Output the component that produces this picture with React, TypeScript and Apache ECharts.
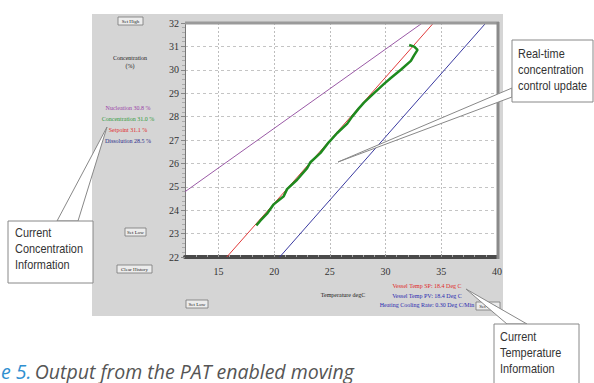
import React, { useEffect, useRef } from "react";
import * as echarts from "echarts";

// ---- data ----
const xTickValues = [15, 20, 25, 30, 35, 40];
const nucleationLine = [[12, 24.79], [33.3, 32]];
const setpointLine = [[15.75, 22], [34.3, 32]];
const solubilityLine = [[20.5, 22], [39.0, 32]];
const concentrationData = [
  [18.4, 23.35], [18.76, 23.55], [19.36, 23.85], [19.96, 24.25], [20.86, 24.6],
  [21.16, 24.9], [22.06, 25.3], [22.96, 25.8], [23.26, 26.05], [24.16, 26.45],
  [24.9, 26.9], [25.66, 27.3], [26.56, 27.7], [27.0, 28.0], [27.6, 28.35],
  [28.06, 28.6], [28.96, 29.0], [29.86, 29.4], [30.47, 29.65], [31.37, 30.0],
  [32.27, 30.38], [32.57, 30.63], [32.87, 30.85], [32.57, 30.99], [32.12, 31.06],
];
const concLabels = [
  { text: "Nucleation 30.8 %", color: "#9a3fa8" },
  { text: "Concentration 31.0 %", color: "#2f9a3a" },
  { text: "Setpoint 31.1 %", color: "#e02828" },
  { text: "Dissolution 28.5 %", color: "#2a2a8a" },
];
const tempLabels = [
  { text: "Vessel Temp SP: 18.4 Deg C", color: "#e02828" },
  { text: "Vessel Temp PV: 18.4 Deg C", color: "#2a2ab0" },
  { text: "Heating Cooling Rate: 0.30 Deg C/Min", color: "#2a2ab0" },
];

const SERIF = "'Liberation Serif', 'Times New Roman', serif";
const SANS = "'Liberation Sans', Arial, sans-serif";

function button(x: number, y: number, w: number, label: string) {
  return [
    { type: "rect", z: 3, shape: { x, y, width: w, height: 8 }, style: { fill: "#ececec", stroke: "#777", lineWidth: 0.8 } },
    { type: "text", z: 4, style: { x: x + w / 2, y: y + 4, text: label, fill: "#222", font: `5px ${SERIF}`, align: "center", verticalAlign: "middle" } },
  ];
}

function callout(box: number[], tip: number[], b1: number[], b2: number[], lines: string[], tx: number, ty: number) {
  return [
    { type: "polygon", z: 100, shape: { points: [tip, b1, b2] }, style: { fill: "#fff", stroke: "#888", lineWidth: 1 } },
    { type: "rect", z: 101, shape: { x: box[0], y: box[1], width: box[2], height: box[3] }, style: { fill: "#fff", stroke: "#888", lineWidth: 1 } },
    ...lines.map((t, i) => ({
      type: "text", z: 102, x: tx, y: ty + i * 16, scaleX: 0.84,
      style: { x: 0, y: 0, text: t, fill: "#333", font: `13px ${SANS}`, verticalAlign: "middle" },
    })),
  ];
}

export default function App() {
  const ref = useRef<HTMLDivElement>(null);
  useEffect(() => {
    if (!ref.current) return;
    const chart = echarts.init(ref.current, undefined, { renderer: "svg" });
    const graphics: any[] = [
      { type: "rect", z: -10, shape: { x: 92, y: 14, width: 411, height: 302 }, style: { fill: "#d5d5d5" } },
      // plot border top/right
      { type: "line", z: 5, shape: { x1: 185, y1: 23, x2: 499, y2: 23 }, style: { stroke: "#9a9a9a", lineWidth: 3 } },
      { type: "line", z: 5, shape: { x1: 498, y1: 22, x2: 498, y2: 259 }, style: { stroke: "#8a8a8a", lineWidth: 3 } },
      ...button(118, 17, 25, "Set High"),
      ...button(125, 228, 21, "Set Low"),
      ...button(117, 265, 35, "Clear History"),
      ...button(186, 300, 22, "Set Low"),
      ...button(476, 302, 24, "Set High"),
      { type: "text", z: 4, style: { x: 130, y: 58, text: "Concentration", fill: "#222", font: `6px ${SERIF}`, align: "center", verticalAlign: "middle" } },
      { type: "text", z: 4, style: { x: 130, y: 66, text: "(%)", fill: "#222", font: `6px ${SERIF}`, align: "center", verticalAlign: "middle" } },
      ...concLabels.map((l, i) => ({
        type: "text", z: 4,
        style: { x: 128, y: 108 + i * 11, text: l.text, fill: l.color, font: `6px ${SERIF}`, align: "center", verticalAlign: "middle" },
      })),
      ...tempLabels.map((l, i) => ({
        type: "text", z: 4,
        style: { x: 427, y: 286 + i * 9.5, text: l.text, fill: l.color, font: `6px ${SERIF}`, align: "center", verticalAlign: "middle" },
      })),
      { type: "text", z: 4, style: { x: 343, y: 295, text: "Temperature degC", fill: "#222", font: `6px ${SERIF}`, align: "center", verticalAlign: "middle" } },
      ...callout([512, 40, 81, 62], [338, 162], [512, 88], [512, 97], ["Real-time", "concentration", "control update"], 518, 54),
      ...callout([8, 221, 85, 62], [107, 127], [57, 221], [78, 221], ["Current", "Concentration", "Information"], 15, 233),
      ...callout([494, 324, 85, 62], [466, 289], [507, 324], [527, 324], ["Current", "Temperature", "Information"], 500, 337),
      {
        type: "text", z: 10,
        style: {
          x: 1, y: 371, verticalAlign: "middle",
          text: "{a|e 5.} {b|Output from the PAT enabled moving}",
          rich: {
            a: { fill: "#2f8fd0", font: `italic 19.5px 'Open Sans', sans-serif` },
            b: { fill: "#555", font: `italic 19.5px 'Open Sans', sans-serif` },
          },
        },
      },
    ];
    chart.setOption({
      animation: false,
      backgroundColor: "#fff",
      grid: { left: 185, top: 23, width: 312, height: 234, show: true, backgroundColor: "#fff", borderWidth: 0 },
      xAxis: {
        type: "value", min: 12, max: 40,
        axisLine: { show: true, lineStyle: { color: "#4a4a4a", width: 4 } },
        axisTick: { show: true, customValues: xTickValues, length: 3, inside: true, lineStyle: { color: "#999" } },
        axisLabel: { customValues: xTickValues, color: "#333", fontFamily: SERIF, fontSize: 10, margin: 9 },
        minorTick: { show: true, splitNumber: 5, length: 2, lineStyle: { color: "#aaa" } },
        splitLine: { show: true, lineStyle: { color: "#bdbdbd", type: [2, 2], width: 1 } },
      },
      yAxis: {
        type: "value", min: 22, max: 32, interval: 1,
        axisLine: { show: true, lineStyle: { color: "#777", width: 1 } },
        axisTick: { show: true, length: 4, lineStyle: { color: "#888" } },
        axisLabel: { color: "#333", fontFamily: SERIF, fontSize: 10, margin: 6 },
        minorTick: { show: true, splitNumber: 5, length: 3, lineStyle: { color: "#aaa" } },
        splitLine: { show: true, lineStyle: { color: "#c4c4c4", type: [3, 3], width: 1 } },
      },
      series: [
        { type: "line", data: nucleationLine, symbol: "none", lineStyle: { color: "#9a5aa6", width: 1 }, z: 3 },
        { type: "line", data: solubilityLine, symbol: "none", lineStyle: { color: "#3a3aa0", width: 1 }, z: 3 },
        { type: "line", data: setpointLine, symbol: "none", lineStyle: { color: "#e03a3a", width: 1 }, z: 3 },
        { type: "line", data: concentrationData, symbol: "none", lineStyle: { color: "#1e8a1e", width: 2.5 }, z: 4 },
      ],
      graphic: graphics,
    });
    return () => chart.dispose();
  }, []);
  return <div ref={ref} style={{ position: "absolute", left: 0, top: 0, width: 594, height: 383 }} />;
}
